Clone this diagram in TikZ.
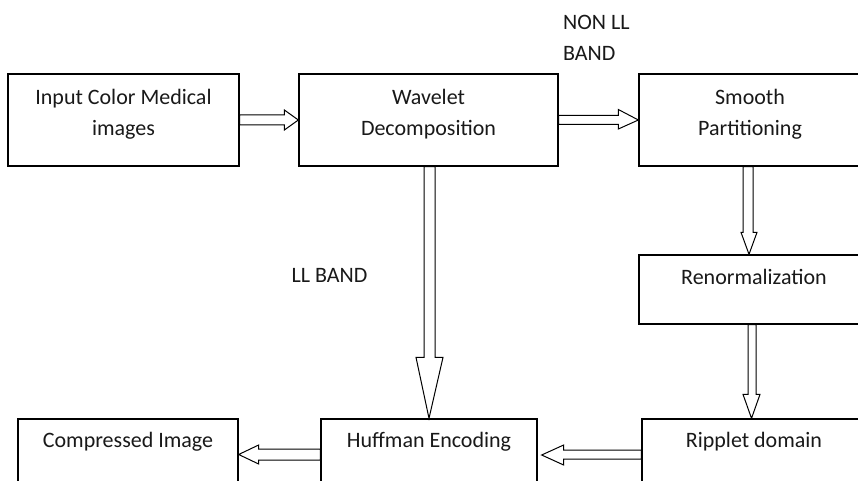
\documentclass[tikz,border=0pt]{standalone}
\usepackage{fontspec}
\setmainfont{Carlito}
\usetikzlibrary{calc}
\begin{document}
\begin{tikzpicture}[x=1pt,y=-1pt,
  box/.style={draw=black, line width=1.3pt, fill=white, inner sep=0pt},
  txt/.style={font=\fontsize{22}{31}\selectfont, align=center, inner sep=0pt, text=black!90},
  arr/.style={draw=black, line width=1pt, fill=white, line join=miter}]
\useasboundingbox (0,0) rectangle (858,481);
\clip (0,0) rectangle (858,481);
\fill[white] (0,0) rectangle (858,481);
% boxes
\node[box, minimum width=231pt, minimum height=92pt] (in)  at (123.5,120) {};
\node[box, minimum width=259pt, minimum height=92pt] (wav) at (428.5,120) {};
\node[box, minimum width=227pt, minimum height=92pt] (smo) at (752.5,120) {};
\node[box, minimum width=227pt, minimum height=69pt] (ren) at (752.5,289.5) {};
\node[box, minimum width=224pt, minimum height=90pt] (rip) at (754,464) {};
\node[box, minimum width=216pt, minimum height=90pt] (huf) at (429,464) {};
\node[box, minimum width=220pt, minimum height=90pt] (com) at (128,464) {};
% texts
\node[txt] (inT)  at (123.5,114) {Input Color Medical\\images};
\node[txt] (wavT) at (428.5,114) {Wavelet\\Decomposition};
\node[txt] (smoT) at (750,114) {Smooth\\Partitioning};
\node[txt] (renT) at (754,277) {Renormalization};
\node[txt] (ripT) at (754,442) {Ripplet domain};
\node[txt] (hufT) at (429,442) {Huffman Encoding};
\node[txt] (comT) at (128,442) {Compressed Image};
\node[txt, align=left, anchor=west] (nonll) at (563,37.5) {NON LL\\BAND};
\node[txt] (ll) at (329.5,275) {LL BAND};
% arrows
\draw[arr] ($(in.east)+(0,-5)$) -- ($(wav.west)+(-14,-5)$) -- ($(wav.west)+(-14,-10)$) -- (wav.west)
  -- ($(wav.west)+(-14,10)$) -- ($(wav.west)+(-14,5)$) -- ($(in.east)+(0,5)$) -- cycle;
\draw[arr] ($(wav.east)+(0,-4.5)$) -- ($(smo.west)+(-20,-4.5)$) -- ($(smo.west)+(-20,-10.5)$) -- (smo.west)
  -- ($(smo.west)+(-20,9)$) -- ($(smo.west)+(-20,4.5)$) -- ($(wav.east)+(0,4.5)$) -- cycle;
\draw[arr] ($(wav.south)+(-4.5,0)$) -- ($(huf.north)+(-5,-61)$) -- ($(huf.north)+(-13,-61)$) -- (huf.north)
  -- ($(huf.north)+(14,-61)$) -- ($(huf.north)+(6,-61)$) -- ($(wav.south)+(6.5,0)$) -- cycle;
\draw[arr] ($(smo.south)+(-9.5,0)$) -- ($(ren.north)+(-9.5,-22)$) -- ($(ren.north)+(-11.5,-22)$) -- ($(ren.north)+(-3.5,0)$)
  -- ($(ren.north)+(4.5,-22)$) -- ($(ren.north)+(0.5,-22)$) -- ($(smo.south)+(0.5,0)$) -- cycle;
\draw[arr] ($(ren.south)+(-4.5,0)$) -- ($(rip.north)+(-6,-24)$) -- ($(rip.north)+(-11,-24)$) -- ($(rip.north)+(-2.5,0)$)
  -- ($(rip.north)+(6,-24)$) -- ($(rip.north)+(2,-24)$) -- ($(ren.south)+(3.5,0)$) -- cycle;
\draw[arr] ($(rip.west)+(0,-14)$) -- ($(huf.east)+(26,-14)$) -- ($(huf.east)+(26,-19)$) -- ($(huf.east)+(4,-9)$)
  -- ($(huf.east)+(26,1)$) -- ($(huf.east)+(26,-5)$) -- ($(rip.west)+(0,-5)$) -- cycle;
\draw[arr] ($(huf.west)+(0,-15)$) -- ($(com.east)+(20,-15)$) -- ($(com.east)+(20,-19)$) -- ($(com.east)+(0,-9.5)$)
  -- ($(com.east)+(20,0)$) -- ($(com.east)+(20,-4)$) -- ($(huf.west)+(0,-4)$) -- cycle;
\end{tikzpicture}
\end{document}
